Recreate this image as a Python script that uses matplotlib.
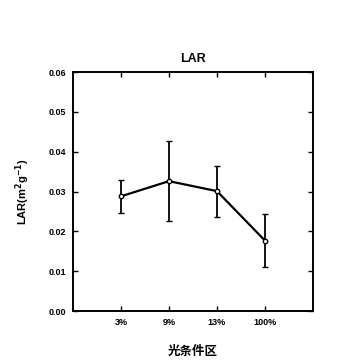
import matplotlib
matplotlib.use("Agg")
import matplotlib.pyplot as plt

categories = ["3%", "9%", "13%", "100%"]
lar = [0.0288, 0.0326, 0.0301, 0.0177]
err = [0.0042, 0.0100, 0.0064, 0.0066]
yticks = [0.00, 0.01, 0.02, 0.03, 0.04, 0.05, 0.06]

plt.rcParams['font.family'] = ['Liberation Sans', 'Noto Sans CJK SC', 'DejaVu Sans']

fig = plt.figure(figsize=(3.6, 3.6), dpi=100)
ax = fig.add_axes([0.203, 0.136, 0.666, 0.664])
x = list(range(len(categories)))
ax.errorbar(x, lar, yerr=err, color='black', lw=1.6, elinewidth=1.3, capsize=2.5, capthick=1.3,
            marker='o', markersize=3.2, markerfacecolor='white', markeredgecolor='black', markeredgewidth=1.0)
ax.set_xlim(-1, 4)
ax.set_ylim(0, 0.06)
ax.set_xticks(x)
ax.set_xticklabels(categories, fontsize=6.5, fontweight='bold')
ax.set_yticks(yticks)
ax.set_yticklabels([f"{v:.2f}" for v in yticks], fontsize=6.5, fontweight='bold')
ax.tick_params(direction='in', length=3.5, width=1, top=True, right=True, pad=5)
for s in ax.spines.values():
    s.set_linewidth(1.4)
ax.set_title("LAR", fontsize=9, fontweight='bold', pad=7)
ax.set_ylabel("LAR(m$^{\\mathbf{2}}$g$^{\\mathbf{-1}}$)", fontsize=8, fontweight='bold', labelpad=12)
ax.set_xlabel("光条件区", fontsize=9, fontweight='bold', family=['Noto Sans CJK SC'], labelpad=13)
fig.savefig("out.png", dpi=100)
